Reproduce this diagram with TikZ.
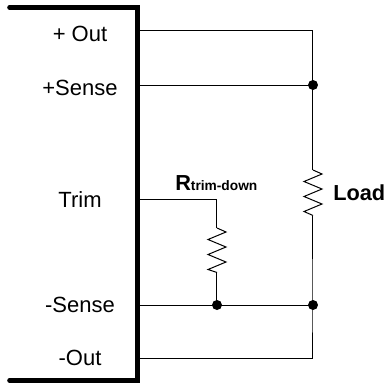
\documentclass[tikz,border=0pt]{standalone}
\usepackage{fontspec}
\setmainfont{Liberation Sans}
\usetikzlibrary{positioning}
\begin{document}
\begin{tikzpicture}[
    x=0.75pt, y=-0.75pt,
    pin/.style={anchor=base, font=\fontsize{16.5}{18}\selectfont, inner sep=0pt},
    label/.style={anchor=base west, font=\fontsize{16.3}{18}\selectfont\bfseries, inner sep=0pt},
    wire/.style={line width=0.75pt},
    dot/.style={circle, fill=black, inner sep=0pt, minimum size=7.5pt},
    zigzagres/.style={to path={-- ++(9,4) -- ++(-18,7.5) -- ++(18,7.5) -- ++(-18,7.5) -- ++(18,7.5) -- ++(-18,7.5) -- (\tikztotarget)}}
  ]
    \useasboundingbox (0,0) rectangle (387,383);

    \draw[line width=3.4pt, line cap=round, line join=miter] (9.5,7.5) -| (137.5,380.5) -- (9.5,380.5);

    \node[pin] at (80,41) (plusout) {+ Out};
    \node[pin] at (80,95) (plussense) {+Sense};
    \node[pin] at (80,207) (trim) {Trim};
    \node[pin] at (80,312) (minussense) {-Sense};
    \node[pin] at (80,365) (minusout) {-Out};

    \coordinate (outA) at (137.5,30);
    \coordinate (senseA) at (137.5,85);
    \coordinate (trimA) at (137.5,199);
    \coordinate (nsenseA) at (137.5,305);
    \coordinate (noutA) at (137.5,358.5);

    \coordinate (outB) at (313,30);
    \node[dot] (senseB) at (313,85) {};
    \node[dot] (nsenseB) at (313,305) {};
    \node[dot] (nsenseC) at (217,305) {};
    \coordinate (noutB) at (313,358.5);
    \coordinate (trimB) at (217,199);

    \coordinate (loadtop) at (313,170);
    \coordinate (loadbot) at (313,215.5);
    \coordinate (rtrimtop) at (217,228);
    \coordinate (rtrimbot) at (217,272.5);

    \node[label] at (333,200) (load) {Load};
    \node[label] at (175,190) (rtrimdown) {R\fontsize{10.3}{12}\selectfont trim-down};

    \draw[wire] (outA) -- (outB) -- (senseB.center);
    \draw[wire] (senseA) -- (senseB.center) -- (loadtop);
    \draw[wire] (loadtop) to[zigzagres] (loadbot);
    \draw[wire] (loadbot) -- (nsenseB.center) -- (noutB) -- (noutA);
    \draw[wire] (nsenseA) -- (nsenseB.center);
    \draw[wire] (trimA) -- (trimB) -- (rtrimtop);
    \draw[wire] (rtrimtop) to[zigzagres] (rtrimbot);
    \draw[wire] (rtrimbot) -- (nsenseC.center);
  \end{tikzpicture}
\end{document}
